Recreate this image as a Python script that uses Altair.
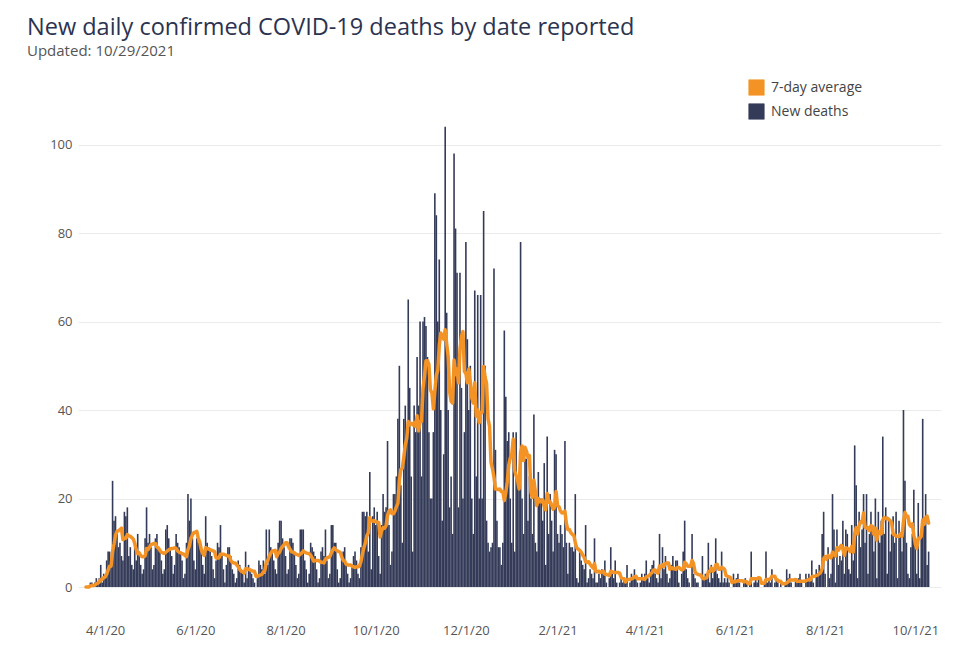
import altair as alt
import pandas as pd

title_text = "New daily confirmed COVID-19 deaths by date reported"
subtitle_text = "Updated: 10/29/2021"
series_names = ["7-day average", "New deaths"]
series_colors = ["#f39325", "#343b58"]
y_ticks = [0, 20, 40, 60, 80, 100]
x_tick_dates = [(2020, 4, 1), (2020, 6, 1), (2020, 8, 1), (2020, 10, 1), (2020, 12, 1),
                (2021, 2, 1), (2021, 4, 1), (2021, 6, 1), (2021, 8, 1), (2021, 10, 1)]

# daily new deaths, by month (first list starts 3/19/2020)
mar20 = [0, 0, 0, 1, 1, 0, 1, 2, 1, 2, 5, 1, 3]
apr20 = [2, 6, 8, 8, 5, 24, 15, 16, 12, 9, 10, 7, 6, 17, 16, 18, 7, 9, 5, 4,
         10, 6, 12, 8, 5, 3, 4, 11, 18, 10]
may20 = [12, 9, 4, 5, 11, 12, 9, 8, 6, 3, 4, 13, 14, 11, 9, 7, 3, 5, 12, 10,
         9, 8, 6, 2, 3, 10, 21, 15, 20, 11, 6]
jun20 = [4, 11, 10, 9, 8, 5, 3, 16, 10, 9, 8, 7, 4, 2, 6, 10, 9, 14, 7, 4,
         1, 5, 9, 9, 7, 4, 3, 1, 2, 6]
jul20 = [5, 4, 3, 1, 8, 2, 5, 4, 3, 2, 1, 0, 2, 6, 5, 4, 6, 3, 13, 5,
         13, 9, 8, 6, 4, 3, 10, 15, 15, 11, 9]
aug20 = [7, 3, 4, 11, 11, 10, 8, 5, 2, 3, 13, 13, 13, 6, 4, 1, 3, 10, 9, 8,
         7, 4, 1, 2, 8, 9, 7, 13, 6, 2, 3]
sep20 = [14, 14, 10, 10, 4, 1, 2, 7, 8, 9, 5, 3, 1, 2, 5, 7, 8, 6, 3, 2,
         9, 17, 17, 16, 17, 8, 26, 4, 16, 18]
oct20 = [14, 17, 7, 3, 14, 21, 17, 18, 33, 14, 5, 8, 21, 21, 25, 38, 50, 23, 10, 38,
         41, 35, 65, 45, 25, 8, 41, 35, 52, 41, 60]
nov20 = [25, 60, 61, 59, 52, 35, 20, 20, 35, 89, 84, 60, 74, 40, 15, 30, 104, 62, 40, 18,
         25, 12, 98, 81, 71, 18, 71, 45, 20, 35]
dec20 = [78, 56, 40, 50, 20, 12, 67, 25, 66, 20, 66, 20, 85, 50, 15, 10, 8, 9, 10, 72,
         31, 15, 9, 9, 5, 10, 58, 43, 33, 35, 20]
jan21 = [10, 35, 8, 35, 25, 22, 78, 20, 12, 29, 29, 15, 25, 20, 12, 39, 10, 8, 26, 20,
         20, 15, 28, 5, 34, 12, 21, 15, 8, 31, 30]
feb21 = [12, 10, 14, 12, 9, 33, 10, 3, 10, 9, 9, 8, 21, 2, 1, 8, 6, 5, 4, 14,
         1, 2, 4, 3, 2, 11, 1, 1]
mar21 = [3, 2, 4, 3, 6, 1, 0, 2, 9, 3, 2, 6, 1, 0, 1, 2, 1, 2, 1, 5,
         0, 1, 3, 2, 4, 2, 1, 0, 1, 3, 2]
apr21 = [3, 6, 2, 1, 4, 5, 6, 3, 2, 1, 12, 2, 9, 4, 7, 3, 1, 2, 5, 7,
         4, 6, 6, 1, 0, 3, 8, 15, 4, 2]
may21 = [1, 0, 12, 3, 2, 1, 1, 0, 0, 7, 2, 3, 2, 10, 1, 5, 2, 4, 11, 3,
         2, 1, 8, 1, 2, 1, 2, 1, 0, 0, 3]
jun21 = [1, 2, 3, 1, 0, 0, 1, 2, 1, 0, 1, 8, 0, 1, 2, 1, 2, 0, 0, 0,
         1, 8, 1, 2, 1, 4, 0, 1, 2, 1]
jul21 = [0, 1, 0, 0, 1, 4, 2, 3, 1, 0, 0, 2, 1, 2, 3, 1, 0, 0, 3, 2,
         3, 2, 6, 1, 0, 4, 3, 5, 4, 12, 17]
aug21 = [3, 0, 9, 2, 3, 21, 13, 1, 13, 5, 7, 6, 15, 3, 13, 12, 4, 3, 14, 6,
         32, 23, 2, 17, 9, 13, 21, 10, 21, 3, 12]
sep21 = [17, 12, 8, 20, 2, 17, 10, 15, 34, 12, 18, 3, 15, 8, 12, 16, 10, 17, 2, 15,
         12, 8, 40, 24, 10, 3, 2, 9, 12, 22]
oct21 = [10, 3, 19, 2, 12, 38, 15, 21, 5, 8]

months = [
    (2020, 3, 19, mar20), (2020, 4, 1, apr20), (2020, 5, 1, may20), (2020, 6, 1, jun20),
    (2020, 7, 1, jul20), (2020, 8, 1, aug20), (2020, 9, 1, sep20), (2020, 10, 1, oct20),
    (2020, 11, 1, nov20), (2020, 12, 1, dec20), (2021, 1, 1, jan21), (2021, 2, 1, feb21),
    (2021, 3, 1, mar21), (2021, 4, 1, apr21), (2021, 5, 1, may21), (2021, 6, 1, jun21),
    (2021, 7, 1, jul21), (2021, 8, 1, aug21), (2021, 9, 1, sep21), (2021, 10, 1, oct21),
]

rows = []
for yr, mo, d0, vals in months:
    start = pd.Timestamp(yr, mo, d0)
    for i, v in enumerate(vals):
        rows.append({"date": (start + pd.Timedelta(days=i)).strftime("%Y-%m-%d"),
                     "deaths": v, "series": "New deaths"})
df = pd.DataFrame(rows)

FONT = "Open Sans"


def dt(t):
    return alt.DateTime(year=t[0], month=t[1], date=t[2], utc=True)


x_scale = alt.Scale(domain=[dt((2020, 3, 17)), dt((2021, 10, 15))])
x_axis = alt.Axis(values=[dt(t) for t in x_tick_dates],
                  labelExpr="utcFormat(datum.value, '%-m/%-d/%y')",
                  grid=False, domain=False, ticks=False, labelPadding=37, labelFlush=False,
                  labelFont=FONT, labelFontSize=13, labelColor="#555555", title=None)
y_scale = alt.Scale(domain=[0, 106], nice=False)
y_axis = alt.Axis(values=y_ticks, grid=True, gridColor="#ebebeb", domain=False, ticks=False,
                  labelFont=FONT, labelFontSize=13, labelColor="#555555", labelPadding=6,
                  title=None)
legend = alt.Legend(title=None, orient="none", legendX=670, legendY=-39, direction="vertical",
                    symbolType="square", symbolSize=240, symbolStrokeWidth=0.6,
                    symbolOpacity=1,
                    labelFont=FONT, labelFontSize=14, labelColor="#444444", labelOffset=6,
                    rowPadding=5, padding=0)
color = alt.Color("series:N", scale=alt.Scale(domain=series_names, range=series_colors),
                  legend=legend)

base = alt.Chart(df)

bars = base.mark_bar(width=1.6).encode(
    x=alt.X("date:T", scale=x_scale, axis=x_axis),
    y=alt.Y("deaths:Q", scale=y_scale, axis=y_axis),
    color=color,
)

line = base.transform_window(
    avg="mean(deaths)", frame=[-6, 0], sort=[alt.SortField("date")]
).transform_calculate(series="'7-day average'").mark_line(
    strokeWidth=3.5, strokeJoin="round", strokeCap="round"
).encode(
    x=alt.X("date:T", scale=x_scale, axis=x_axis),
    y=alt.Y("avg:Q", scale=y_scale, axis=y_axis),
    color=color,
)

chart = alt.layer(bars, line).properties(
    width=863, height=469,
    padding={"left": 70, "top": 110, "right": 20, "bottom": 60},
    autosize=alt.AutoSizeParams(type="none"),
    title=alt.TitleParams(text=title_text, subtitle=subtitle_text, anchor="start",
                          frame="group", dx=-51, offset=20,
                          font=FONT, fontSize=23.5, fontWeight="normal", color="#2c3350",
                          subtitleFont=FONT, subtitleFontSize=15, subtitleColor="#555555",
                          subtitlePadding=5),
).configure_view(stroke=None)

chart.save("out.html", embed_options={"renderer": "svg", "actions": False})
